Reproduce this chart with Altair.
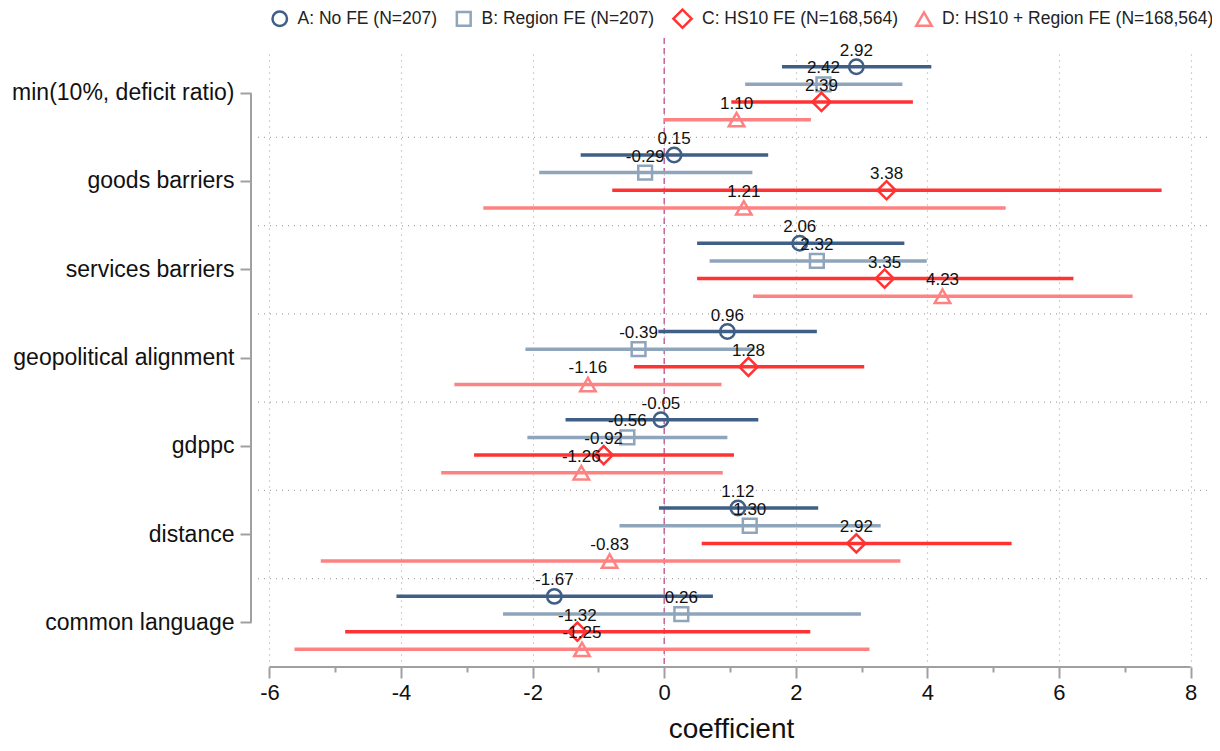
import altair as alt
import pandas as pd

groups = ["min(10%, deficit ratio)", "goods barriers", "services barriers",
          "geopolitical alignment", "gdppc", "distance", "common language"]
models = ["A: No FE (N=207)", "B: Region FE (N=207)", "C: HS10 FE (N=168,564)",
          "D: HS10 + Region FE (N=168,564)"]
colors = ["#3f5f86", "#8fa5bb", "#ff3333", "#ff8282"]
shapes = ["circle", "square", "diamond", "triangle-up"]
marker_sizes = [210, 190, 330, 240]

coef_A = [2.92, 0.15, 2.06, 0.96, -0.05, 1.12, -1.67]
lo_A = [1.79, -1.27, 0.50, -0.09, -1.50, -0.08, -4.07]
hi_A = [4.06, 1.58, 3.65, 2.32, 1.43, 2.34, 0.74]
coef_B = [2.42, -0.29, 2.32, -0.39, -0.56, 1.30, 0.26]
lo_B = [1.23, -1.90, 0.69, -2.11, -2.08, -0.68, -2.45]
hi_B = [3.62, 1.34, 3.99, 1.37, 0.96, 3.29, 2.99]
coef_C = [2.39, 3.38, 3.35, 1.28, -0.92, 2.92, -1.32]
lo_C = [1.02, -0.79, 0.50, -0.46, -2.89, 0.57, -4.85]
hi_C = [3.78, 7.56, 6.22, 3.04, 1.06, 5.28, 2.22]
coef_D = [1.10, 1.21, 4.23, -1.16, -1.26, -0.83, -1.25]
lo_D = [0.00, -2.75, 1.35, -3.19, -3.39, -5.22, -5.62]
hi_D = [2.23, 5.19, 7.12, 0.87, 0.89, 3.59, 3.12]

x_ticks = [-6, -5, -4, -3, -2, -1, 0, 1, 2, 3, 4, 5, 6, 7, 8]

series = [(coef_A, lo_A, hi_A), (coef_B, lo_B, hi_B), (coef_C, lo_C, hi_C), (coef_D, lo_D, hi_D)]
rows = []
for m, (c, lo, hi) in zip(models, series):
    for g, cv, lv, hv in zip(groups, c, lo, hi):
        rows.append({"variable": g, "model": m, "coef": cv, "lo": lv, "hi": hv})
df = pd.DataFrame(rows)

FONT = "Liberation Sans"
W, H = 952, 618

xscale = alt.Scale(domain=[-6.22, 8.25], nice=False, zero=False)
yscale = alt.Scale(domain=groups, paddingInner=0, paddingOuter=0)
ooff = alt.Scale(domain=models, paddingInner=0, paddingOuter=0.5)
cscale = alt.Scale(domain=models, range=colors)
sscale = alt.Scale(domain=models, range=shapes)

odd_test = "datum.value % 2 !== 0"

x_enc = alt.X("lo:Q", scale=xscale, title="coefficient",
              axis=alt.Axis(values=x_ticks, domain=False,
                            labelExpr=f"({odd_test}) ? '' : ('' + datum.value)",
                            tickSize={"condition": {"test": odd_test, "value": 5}, "value": 11},
                            tickColor="#a0a0a0", tickWidth=2,
                            grid=True, gridDash=[1, 5], gridColor="#a8a8a8", gridWidth=1.2,
                            gridOpacity={"condition": {"test": odd_test, "value": 0}, "value": 1},
                            labelFontSize=22, labelColor="#111", labelPadding=4, labelFont=FONT,
                            titleFontSize=28, titleColor="#111", titleFont=FONT,
                            titleFontWeight="normal", titlePadding=12))
y_enc = alt.Y("variable:N", scale=yscale, sort=groups, title=None,
              axis=alt.Axis(domain=False, offset=4, tickSize=11, tickColor="#a0a0a0",
                            tickWidth=2, labelFontSize=23, labelColor="#111", labelFont=FONT,
                            labelPadding=6, labelLimit=500, grid=False))
yo = alt.YOffset("model:N", sort=models, scale=ooff)

legend = alt.Legend(
    title=None, orient="none", legendX=16, legendY=-41, direction="horizontal",
    labelFontSize=17.5, labelFont=FONT, labelColor="#222", symbolSize=170,
    symbolStrokeWidth=2.5, columnPadding=13, labelOffset=9, symbolFillColor="white",
    labelLimit=500)

base = alt.Chart(df)

bars = base.mark_rule(strokeWidth=3.5).encode(
    x=x_enc, x2="hi:Q", y=y_enc, yOffset=yo,
    color=alt.Color("model:N", scale=cscale, legend=legend),
)

points = base.mark_point(filled=False, strokeWidth=2.5, fill="white", fillOpacity=0).encode(
    x=alt.X("coef:Q", scale=xscale),
    y=alt.Y("variable:N", scale=yscale, sort=groups),
    yOffset=yo,
    color=alt.Color("model:N", scale=cscale, legend=legend),
    shape=alt.Shape("model:N", scale=sscale, legend=legend),
    size=alt.Size("model:N", scale=alt.Scale(type="ordinal", domain=models, range=marker_sizes),
                  legend=None),
)

labels = base.transform_calculate(
    lab="replace(format(datum.coef, '.2f'), '\u2212', '-')"
).mark_text(fontSize=17, font=FONT, color="#111", dy=-16, baseline="middle").encode(
    x=alt.X("coef:Q", scale=xscale),
    y=alt.Y("variable:N", scale=yscale, sort=groups),
    yOffset=yo,
    text="lab:N",
)

sep_df = pd.DataFrame({"variable": groups[1:]})
seps = alt.Chart(sep_df).mark_rule(strokeDash=[1, 5], color="#a8a8a8", strokeWidth=1.2).encode(
    y=alt.Y("variable:N", scale=yscale, sort=groups, bandPosition=0),
)

zero = alt.Chart(pd.DataFrame({"v": [0]})).mark_rule(
    strokeDash=[6, 4], color="#c8649a", strokeWidth=1.5).encode(
    x=alt.X("v:Q", scale=xscale), y=alt.value(-11), y2=alt.value(H))

xline = alt.Chart(pd.DataFrame({"a": [x_ticks[0]], "b": [x_ticks[-1]]})).mark_rule(
    color="#a0a0a0", strokeWidth=2).encode(
    x=alt.X("a:Q", scale=xscale), x2="b:Q", y=alt.value(H))

yline = alt.Chart(pd.DataFrame({"a": [groups[0]], "b": [groups[-1]]})).mark_rule(
    color="#a0a0a0", strokeWidth=2).encode(
    y=alt.Y("a:N", scale=yscale, sort=groups), y2="b:N", x=alt.value(-4))

chart = alt.layer(seps, zero, bars, points, labels, xline, yline).properties(
    width=W, height=H,
    autosize=alt.AutoSizeParams(type="none"),
    padding={"left": 247, "top": 41, "right": 5, "bottom": 75},
).configure(font=FONT).configure_view(stroke=None)

chart.save("out.html", embed_options={"renderer": "svg", "actions": False})
